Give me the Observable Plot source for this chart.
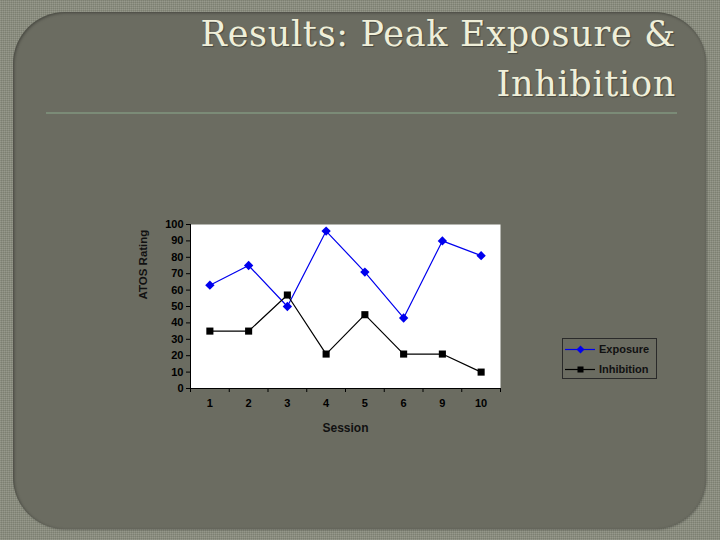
<!DOCTYPE html>
<html>
<head>
<meta charset="utf-8">
<script src="https://cdn.jsdelivr.net/npm/d3@7"></script>
<script src="https://cdn.jsdelivr.net/npm/@observablehq/plot@0.6"></script>
<style>
  html, body { margin: 0; padding: 0; }
  body { width: 720px; height: 540px; overflow: hidden; position: relative;
    background-color: #8a8d7e;
    background-image:
      repeating-linear-gradient(0deg, rgba(255,255,255,0.06) 0 1px, rgba(0,0,0,0.05) 1px 2px),
      repeating-linear-gradient(90deg, rgba(255,255,255,0.05) 0 1px, rgba(0,0,0,0.05) 1px 2px);
  }
  #panel { position: absolute; left: 13px; top: 12px; width: 693px; height: 517px;
    border-radius: 52px; background: #6b6c61;
    box-shadow: inset 1px 1px 3px rgba(0,0,0,0.35), 1px 1px 2px rgba(0,0,0,0.25); }
  #title { position: absolute; right: 44px; top: 9px; text-align: right;
    font-family: "DejaVu Serif", serif; font-size: 35px; line-height: 50px; letter-spacing: 0.7px;
    color: #efefd9; text-shadow: 1px 1px 1px rgba(0,0,0,0.35); white-space: nowrap; }
  #rule { position: absolute; left: 46px; top: 112px; width: 631px; height: 2px; background: #7b8b77; }
  #chart { position: absolute; left: 0; top: 0; }
  #legend { position: absolute; left: 562px; top: 338px; width: 93px; height: 39px;
    border: 1px solid #2a2a2a; font-family: "Liberation Sans", Arial, sans-serif;
    font-weight: bold; font-size: 11px; color: #111; }
  .lrow { position: absolute; left: 2px; height: 14px; display: flex; align-items: center; }
  .lrow svg { display: block; margin-right: 4px; }
</style>
</head>
<body>
<div id="panel"></div>
<div id="title">Results: Peak Exposure &amp;<br>Inhibition</div>
<div id="rule"></div>
<div id="chart"></div>
<div id="legend"></div>
<script>
const sessions = ["1", "2", "3", "4", "5", "6", "9", "10"];
const exposure = [63, 75, 50, 96, 71, 43, 90, 81];
const inhibition = [35, 35, 57, 21, 45, 21, 21, 10];
const yTicks = [0, 10, 20, 30, 40, 50, 60, 70, 80, 90, 100];
const seriesNames = ["Exposure", "Inhibition"];
const seriesColors = ["#0000ee", "#000000"];
const seriesSymbols = ["diamond2", "square"];

const expRows = sessions.map((s, i) => ({i, s, v: exposure[i]}));
const inhRows = sessions.map((s, i) => ({i, s, v: inhibition[i]}));
const xc = d => d.i + 0.5;

const font = "Liberation Sans, Arial, sans-serif";

const chart = Plot.plot({
  width: 720,
  height: 540,
  marginLeft: 190,
  marginRight: 220,
  marginTop: 224,
  marginBottom: 152,
  x: {domain: [0, sessions.length]},
  y: {domain: [0, 100]},
  style: {background: "transparent", fontFamily: font, fontSize: "11px", fontWeight: "bold", color: "#000", overflow: "visible"},
  marks: [
    Plot.frame({fill: "white"}),
    Plot.axisY({ticks: yTicks, tickSize: 4, tickPadding: 3, label: null, fontWeight: "bold", fontSize: 11}),
    Plot.axisX({ticks: d3.range(sessions.length + 1), tickSize: 4, tickFormat: () => "", label: null}),
    Plot.axisX({ticks: sessions.map((_, i) => i + 0.5), tickSize: 0, tickPadding: 11,
      tickFormat: t => sessions[Math.floor(t)], label: null, fontWeight: "bold", fontSize: 11}),
    Plot.text(["Session"], {frameAnchor: "bottom", dy: 43.5, lineAnchor: "bottom", fontWeight: "bold", fontSize: 12, fill: "#111"}),
    Plot.text(["ATOS Rating"], {frameAnchor: "left", rotate: -90, dx: -47, dy: -7, lineAnchor: "middle", fontWeight: "bold", fontSize: 11.5, fill: "#111"}),
    Plot.ruleX([0], {y1: 0, y2: 100, stroke: "#000"}),
    Plot.ruleY([0], {stroke: "#000"}),
    Plot.line(expRows, {x: xc, y: "v", stroke: seriesColors[0], strokeWidth: 1.2}),
    Plot.dot(expRows, {x: xc, y: "v", symbol: seriesSymbols[0], r: 4.2, fill: seriesColors[0], stroke: "none"}),
    Plot.line(inhRows, {x: xc, y: "v", stroke: seriesColors[1], strokeWidth: 1.2}),
    Plot.dot(inhRows, {x: xc, y: "v", symbol: seriesSymbols[1], r: 4, fill: seriesColors[1], stroke: "none"})
  ]
});
document.getElementById("chart").appendChild(chart);

// legend
const legend = document.getElementById("legend");
seriesNames.forEach((name, k) => {
  const row = document.createElement("div");
  row.className = "lrow";
  row.style.top = (k === 0 ? 3 : 23) + "px";
  const sw = Plot.plot({
    width: 30, height: 14, margin: 0,
    x: {domain: [0, 1], axis: null}, y: {domain: [0, 1], axis: null},
    style: {background: "transparent"},
    marks: [
      Plot.ruleY([0.5], {stroke: seriesColors[k], strokeWidth: 1.2}),
      Plot.dot([0.5], {x: d => d, y: 0.5, symbol: seriesSymbols[k], r: k === 0 ? 3.6 : 3.4, fill: seriesColors[k], stroke: "none"})
    ]
  });
  row.appendChild(sw);
  const t = document.createElement("span");
  t.textContent = name;
  row.appendChild(t);
  legend.appendChild(row);
});
</script>
</body>
</html>
